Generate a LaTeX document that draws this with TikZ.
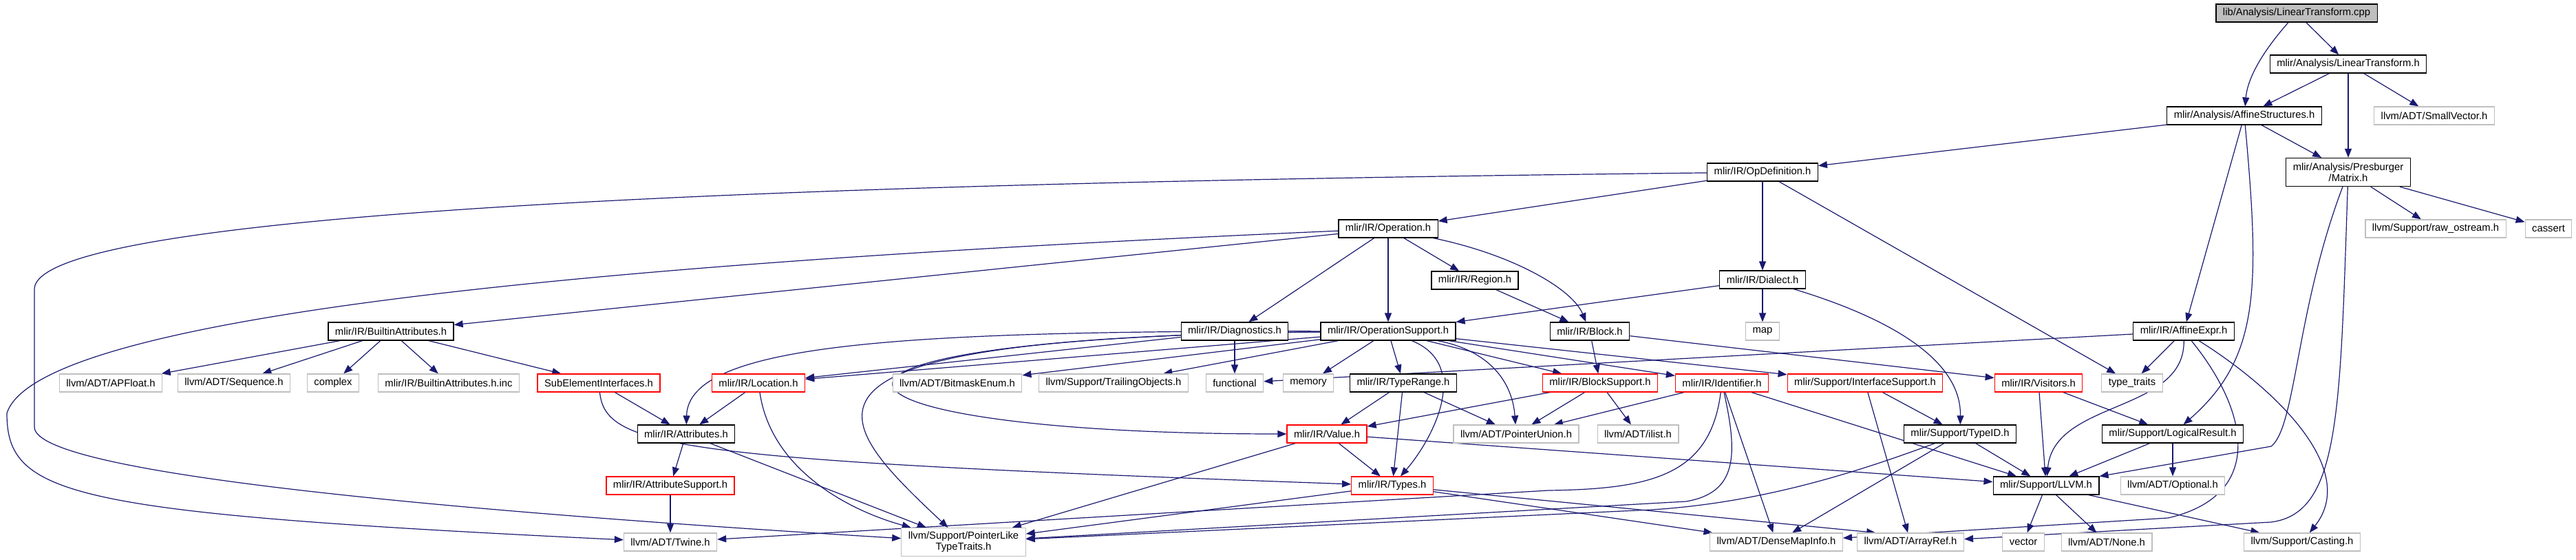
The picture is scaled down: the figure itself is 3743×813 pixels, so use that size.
\documentclass[tikz,border=0pt]{standalone}
\usepackage{fontspec}
\setmainfont{Liberation Sans}
\usetikzlibrary{arrows.meta}
\definecolor{edgeblue}{HTML}{191970}
\definecolor{extgray}{HTML}{BFBFBF}
\pgfdeclarelayer{bg}
\pgfsetlayers{bg,main}
\begin{document}
\begin{tikzpicture}[x=1pt,y=-1pt,
  hbox/.style={draw=black,fill=white,line width=1.2pt,inner xsep=10pt,inner ysep=0pt,
    minimum height=26pt,font=\fontsize{14.8}{16}\selectfont},
  trunc/.style={hbox,draw=red},
  ext/.style={hbox,draw=extgray},
  root/.style={hbox,fill=extgray},
  twoline/.style={align=center,minimum height=41pt},
  dep/.style={draw=edgeblue,line width=1.2pt,-{Triangle[length=13pt,width=10pt]}}]
\useasboundingbox (0,0) rectangle (3743,813);
% headers, top to bottom
\node[root] (cpp) at (3337,19) {lib/Analysis/LinearTransform.cpp};
\node[hbox] (lth) at (3412,93) {mlir/Analysis/LinearTransform.h};
\node[hbox] (affs) at (3261,168) {mlir/Analysis/AffineStructures.h};
\node[ext] (smallvec) at (3537,168) {llvm/ADT/SmallVector.h};
\node[hbox] (opdef) at (2561,250) {mlir/IR/OpDefinition.h};
\node[hbox,twoline] (matrix) at (3412,250) {mlir/Analysis/Presburger\\/Matrix.h};
\node[hbox] (operation) at (2017,332) {mlir/IR/Operation.h};
\node[ext] (rawos) at (3539,332) {llvm/Support/raw\_ostream.h};
\node[ext] (cassert) at (3703,332) {cassert};
\node[hbox] (region) at (2143,407) {mlir/IR/Region.h};
\node[hbox] (dialect) at (2561,406) {mlir/IR/Dialect.h};
\node[hbox] (builtinattr) at (568,481) {mlir/IR/BuiltinAttributes.h};
\node[hbox] (diag) at (1794,481) {mlir/IR/Diagnostics.h};
\node[hbox] (opsupport) at (2017,481) {mlir/IR/OperationSupport.h};
\node[hbox] (block) at (2310,481) {mlir/IR/Block.h};
\node[ext] (map) at (2561,481) {map};
\node[hbox] (affexpr) at (3173,481) {mlir/IR/AffineExpr.h};
\node[ext] (apfloat) at (161,556) {llvm/ADT/APFloat.h};
\node[ext] (sequence) at (340,556) {llvm/ADT/Sequence.h};
\node[ext] (complex) at (484,556) {complex};
\node[ext] (builtininc) at (652,556) {mlir/IR/BuiltinAttributes.h.inc};
\node[trunc] (subelem) at (870,556) {SubElementInterfaces.h};
\node[trunc] (location) at (1102,556) {mlir/IR/Location.h};
\node[ext] (bitmask) at (1391,556) {llvm/ADT/BitmaskEnum.h};
\node[ext] (trailing) at (1618,556) {llvm/Support/TrailingObjects.h};
\node[ext] (functional) at (1794,556) {functional};
\node[ext] (memory) at (1901,556) {memory};
\node[hbox] (typerange) at (2039,556) {mlir/IR/TypeRange.h};
\node[trunc] (blocksupport) at (2325,556) {mlir/IR/BlockSupport.h};
\node[trunc] (identifier) at (2502,556) {mlir/IR/Identifier.h};
\node[trunc] (ifacesupport) at (2710,556) {mlir/Support/InterfaceSupport.h};
\node[trunc] (visitors) at (2962,556) {mlir/IR/Visitors.h};
\node[ext] (typetraits) at (3098,556) {type\_traits};
\node[hbox] (attributes) at (997,630) {mlir/IR/Attributes.h};
\node[trunc] (value) at (1928,630) {mlir/IR/Value.h};
\node[ext] (ptrunion) at (2203,630) {llvm/ADT/PointerUnion.h};
\node[ext] (ilist) at (2380,630) {llvm/ADT/ilist.h};
\node[hbox] (typeid) at (2848,630) {mlir/Support/TypeID.h};
\node[hbox] (logicalres) at (3157,630) {mlir/Support/LogicalResult.h};
\node[trunc] (attrsupport) at (974,705) {mlir/IR/AttributeSupport.h};
\node[trunc] (types) at (2023,705) {mlir/IR/Types.h};
\node[hbox] (llvmh) at (2973,705) {mlir/Support/LLVM.h};
\node[ext] (optional) at (3157,705) {llvm/ADT/Optional.h};
\node[ext] (twine) at (974,787) {llvm/ADT/Twine.h};
\node[ext,twoline] (ptrlike) at (1400,787) {llvm/Support/PointerLike\\TypeTraits.h};
\node[ext] (densemap) at (2581,787) {llvm/ADT/DenseMapInfo.h};
\node[ext] (arrayref) at (2776,787) {llvm/ADT/ArrayRef.h};
\node[ext] (vector) at (2940,787) {vector};
\node[ext] (nonehdr) at (3061,787) {llvm/ADT/None.h};
\node[ext] (casting) at (3345,787) {llvm/Support/Casting.h};
% include edges, under the boxes
\begin{pgfonlayer}{bg}
\draw[dep] (cpp) .. controls (3292,70) and (3266,110) .. (affs);
\draw[dep] (cpp) -- (lth);
\draw[dep] (lth) -- (affs);
\draw[dep] (lth) -- (matrix);
\draw[dep] (lth) -- (smallvec);
\draw[dep] (affs) -- (opdef);
\draw[dep] (affs) -- (matrix);
\draw[dep] (affs) -- (affexpr);
\draw[dep] (affs) .. controls (3284,420) and (3283,520) .. (logicalres);
\draw[dep] (matrix) -- (rawos);
\draw[dep] (matrix) -- (cassert);
\draw[dep] (matrix) .. controls (3336,450) and (3336,620) .. (3300,648) -- (llvmh);
\draw[dep] (matrix) .. controls (3400,600) and (3400,745) .. (3300,758) -- (arrayref);
\draw[dep] (opdef) -- (operation);
\draw[dep] (opdef) -- (dialect);
\draw[dep] (opdef) -- (typetraits);
\draw[dep] (opdef) .. controls (1500,262) and (50,290) .. (50,420) -- (50,620)
  .. controls (50,690) and (700,745) .. (ptrlike);
\draw[dep] (operation) -- (region);
\draw[dep] (operation) .. controls (2200,370) and (2285,420) .. (block);
\draw[dep] (operation) -- (diag);
\draw[dep] (operation) -- (opsupport);
\draw[dep] (operation) -- (builtinattr);
\draw[dep] (operation) .. controls (1100,372) and (60,440) .. (10,600)
  .. controls (10,720) and (100,745) .. (twine);
\draw[dep] (region) -- (block);
\draw[dep] (dialect) -- (opsupport);
\draw[dep] (dialect) -- (map);
\draw[dep] (dialect) .. controls (2740,460) and (2850,520) .. (typeid);
\draw[dep] (builtinattr) -- (apfloat);
\draw[dep] (builtinattr) -- (sequence);
\draw[dep] (builtinattr) -- (complex);
\draw[dep] (builtinattr) -- (builtininc);
\draw[dep] (builtinattr) -- (subelem);
\draw[dep] (diag) -- (functional);
\draw[dep] (diag) -- (location);
\draw[dep] (block) -- (blocksupport);
\draw[dep] (block) -- (visitors);
\draw[dep] (affexpr) -- (functional);
\draw[dep] (affexpr) -- (typetraits);
\draw[dep] (affexpr) .. controls (3175,600) and (2985,580) .. (llvmh);
\draw[dep] (affexpr) .. controls (3270,600) and (3290,720) .. (3150,752) -- (densemap);
\draw[dep] (affexpr) .. controls (3300,560) and (3430,680) .. (casting);
\draw[dep] (opsupport) -- (location);
\draw[dep] (opsupport) .. controls (1300,480) and (1000,500) .. (attributes);
\draw[dep] (opsupport) .. controls (1050,490) and (1150,630) .. (value);
\draw[dep] (opsupport) .. controls (1100,490) and (1200,600) .. (ptrlike);
\draw[dep] (opsupport) -- (bitmask);
\draw[dep] (opsupport) -- (trailing);
\draw[dep] (opsupport) -- (memory);
\draw[dep] (opsupport) -- (typerange);
\draw[dep] (opsupport) .. controls (2140,530) and (2080,640) .. (types);
\draw[dep] (opsupport) .. controls (2170,510) and (2198,560) .. (ptrunion);
\draw[dep] (opsupport) -- (blocksupport);
\draw[dep] (opsupport) -- (identifier);
\draw[dep] (opsupport) -- (ifacesupport);
\draw[dep] (subelem) -- (attributes);
\draw[dep] (subelem) .. controls (880,650) and (980,668) .. (types);
\draw[dep] (location) -- (attributes);
\draw[dep] (location) .. controls (1120,680) and (1230,740) .. (ptrlike);
\draw[dep] (typerange) -- (value);
\draw[dep] (typerange) -- (types);
\draw[dep] (typerange) -- (ptrunion);
\draw[dep] (blocksupport) -- (value);
\draw[dep] (blocksupport) -- (ptrunion);
\draw[dep] (blocksupport) -- (ilist);
\draw[dep] (identifier) -- (ptrunion);
\draw[dep] (identifier) .. controls (2485,690) and (2400,710) .. (2250,712) -- (twine);
\draw[dep] (identifier) .. controls (2525,660) and (2525,715) .. (2450,728) -- (ptrlike);
\draw[dep] (identifier) -- (densemap);
\draw[dep] (identifier) -- (llvmh);
\draw[dep] (ifacesupport) -- (typeid);
\draw[dep] (ifacesupport) -- (arrayref);
\draw[dep] (visitors) -- (llvmh);
\draw[dep] (visitors) -- (logicalres);
\draw[dep] (attributes) -- (attrsupport);
\draw[dep] (attributes) -- (ptrlike);
\draw[dep] (attrsupport) -- (twine);
\draw[dep] (value) -- (types);
\draw[dep] (value) -- (ptrlike);
\draw[dep] (value) -- (llvmh);
\draw[dep] (types) -- (ptrlike);
\draw[dep] (types) -- (arrayref.165);
\draw[dep] (types) -- (densemap);
\draw[dep] (typeid) .. controls (2700,685) and (2560,730) .. (2400,740) -- (ptrlike);
\draw[dep] (typeid) -- (densemap);
\draw[dep] (typeid) -- (llvmh);
\draw[dep] (logicalres) -- (llvmh);
\draw[dep] (logicalres) -- (optional);
\draw[dep] (llvmh) -- (vector);
\draw[dep] (llvmh) -- (nonehdr);
\draw[dep] (llvmh) -- (casting);
\end{pgfonlayer}
\end{tikzpicture}
\end{document}
